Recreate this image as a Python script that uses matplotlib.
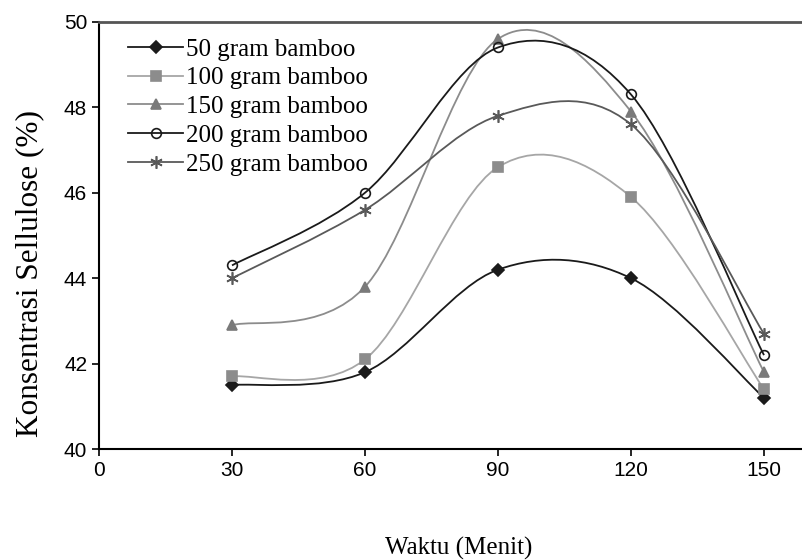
import numpy as np
import matplotlib
matplotlib.use("Agg")
from matplotlib import pyplot as plt
from matplotlib.path import Path
from matplotlib.patches import PathPatch
from matplotlib.lines import Line2D

waktu = [30, 60, 90, 120, 150]
b50 = [41.5, 41.8, 44.2, 44.0, 41.2]
b100 = [41.7, 42.1, 46.6, 45.9, 41.4]
b150 = [42.9, 43.8, 49.6, 47.9, 41.8]
b200 = [44.3, 46.0, 49.4, 48.3, 42.2]
b250 = [44.0, 45.6, 47.8, 47.6, 42.7]
labels = ["50 gram bamboo", "100 gram bamboo", "150 gram bamboo",
          "200 gram bamboo", "250 gram bamboo"]


def smooth_path(x, y):
    # courbe lissée type Excel : Bezier cubique avec tangentes Catmull-Rom
    p = np.column_stack([x, y]).astype(float)
    n = len(p)
    verts = [p[0]]
    codes = [Path.MOVETO]
    for i in range(n - 1):
        p0 = p[max(i - 1, 0)]
        p3 = p[min(i + 2, n - 1)]
        c1 = p[i] + (p[i + 1] - p0) / 6.
        c2 = p[i + 1] - (p3 - p[i]) / 6.
        verts += [c1, c2, p[i + 1]]
        codes += [Path.CURVE4] * 3
    return Path(verts, codes)


asterisk = (6, 2, 0)
series = [
    (b50, "#1a1a1a", "D", "#1a1a1a", "#1a1a1a", 6),
    (b100, "#a6a6a6", "s", "#8c8c8c", "#8c8c8c", 7),
    (b150, "#8c8c8c", "^", "#7a7a7a", "#7a7a7a", 7),
    (b200, "#1a1a1a", "o", "none", "#1a1a1a", 7),
    (b250, "#595959", asterisk, "#595959", "#595959", 9),
]

fig = plt.figure(figsize=(8.03, 5.6), dpi=100)
ax = fig.add_axes([0.1233, 0.198, 0.8767, 0.763])

handles = []
for (vals, lc, mk, fc, ec, ms), lab in zip(series, labels):
    ax.add_patch(PathPatch(smooth_path(waktu, vals), facecolor="none",
                           edgecolor=lc, lw=1.3, zorder=2))
    ax.plot(waktu, vals, linestyle="none", marker=mk, ms=ms,
            markerfacecolor=fc, markeredgecolor=ec, mew=1.2, zorder=3)
    handles.append(Line2D([], [], color=lc, lw=1.3, marker=mk, ms=ms,
                          markerfacecolor=fc, markeredgecolor=ec, mew=1.2))

ax.set_xlim(0, 158.8)
ax.set_ylim(40, 50)
ax.set_xticks([0, 30, 60, 90, 120, 150])
ax.set_yticks([40, 42, 44, 46, 48, 50])

tickfont = ["Liberation Sans Narrow", "Liberation Sans", "DejaVu Sans"]
for t in ax.get_xticklabels() + ax.get_yticklabels():
    t.set_family(tickfont)
    t.set_fontsize(15)
ax.tick_params(direction="out", length=5, width=1.2, colors="black")

ax.spines["right"].set_visible(False)
ax.spines["top"].set_color("#555555")
ax.spines["top"].set_linewidth(2)
ax.spines["left"].set_linewidth(1.5)
ax.spines["bottom"].set_linewidth(1.5)

serif = ["Liberation Serif", "DejaVu Serif"]
ax.set_xlabel("Waktu (Menit)", family=serif, fontsize=18)
ax.xaxis.set_label_coords(0.511, -0.205)
ax.set_ylabel("Konsentrasi Sellulose (%)", family=serif, fontsize=22.5)
ax.yaxis.set_label_coords(-0.078, 0.41)

ax.legend(handles, labels, loc="upper left", bbox_to_anchor=(0.027, 0.985),
          frameon=False, prop={"family": serif, "size": 18},
          handlelength=2.2, handletextpad=0.1, labelspacing=0.25,
          borderaxespad=0.)

fig.savefig("out.png", dpi=100)
